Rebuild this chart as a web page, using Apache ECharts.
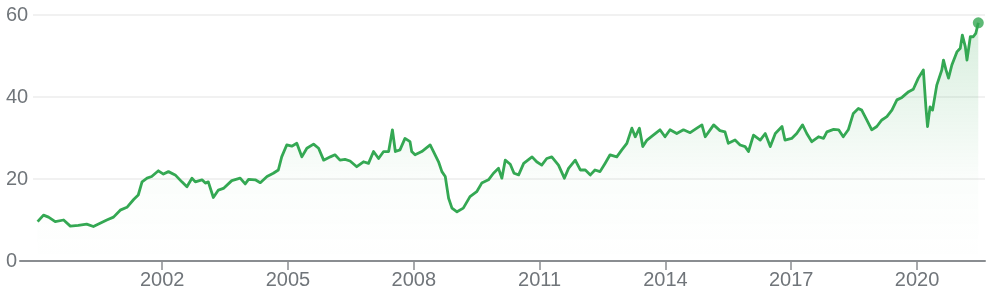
<!DOCTYPE html>
<html>
<head>
<meta charset="utf-8">
<script src="https://cdn.jsdelivr.net/npm/echarts@6/dist/echarts.min.js"></script>
<style>
html,body{margin:0;padding:0;background:#fff;}
#chart{width:990px;height:297px;}
</style>
</head>
<body>
<div id="chart"></div>
<script>
// decimal year of each sample
var years = [
1999.03,1999.17,1999.29,1999.45,1999.65,1999.81,2000.00,2000.20,2000.36,2000.52,2000.68,2000.84,
2001.00,2001.16,2001.32,2001.43,2001.52,2001.64,2001.75,2001.91,2002.03,2002.15,2002.31,2002.47,2002.59,2002.71,
2002.79,2002.95,2003.03,2003.10,2003.22,2003.34,2003.46,2003.66,2003.86,2003.98,2004.06,2004.22,2004.34,2004.50,
2004.65,2004.77,2004.85,2004.97,2005.09,2005.21,2005.33,2005.45,2005.61,2005.73,2005.85,2006.01,2006.12,2006.24,
2006.36,2006.48,2006.64,2006.80,2006.92,2007.04,2007.16,2007.28,2007.40,2007.49,2007.56,2007.67,2007.79,2007.91,
2007.95,2008.03,2008.19,2008.39,2008.47,2008.59,2008.67,2008.75,2008.83,2008.91,2009.03,2009.18,2009.34,2009.50,
2009.62,2009.78,2009.90,2010.02,2010.10,2010.18,2010.30,2010.39,2010.50,2010.62,2010.82,2010.93,2011.05,2011.17,
2011.29,2011.45,2011.59,2011.69,2011.85,2011.97,2012.09,2012.21,2012.32,2012.44,2012.56,2012.68,2012.84,2012.96,
2013.08,2013.20,2013.28,2013.38,2013.46,2013.56,2013.71,2013.87,2013.99,2014.11,2014.27,2014.43,2014.59,2014.75,
2014.87,2014.95,2015.15,2015.30,2015.42,2015.50,2015.66,2015.78,2015.90,2015.98,2016.10,2016.26,2016.38,2016.50,
2016.62,2016.78,2016.85,2017.01,2017.13,2017.27,2017.37,2017.49,2017.65,2017.77,2017.85,2018.01,2018.13,2018.24,
2018.36,2018.48,2018.60,2018.68,2018.80,2018.92,2019.04,2019.16,2019.28,2019.40,2019.52,2019.64,2019.80,2019.91,
2020.03,2020.15,2020.21,2020.25,2020.31,2020.37,2020.47,2020.59,2020.63,2020.69,2020.75,2020.83,2020.95,2021.03,
2021.08,2021.15,2021.19,2021.27,2021.34,2021.40,2021.46
];
// price at each sample
var prices = [
9.6,11.2,10.7,9.6,10.0,8.5,8.7,9.0,8.4,9.2,10.0,10.7,
12.4,13.1,15.0,16.1,19.3,20.2,20.6,22.0,21.2,21.8,21.0,19.3,18.1,20.2,
19.3,19.8,19.0,19.3,15.5,17.3,17.7,19.6,20.2,18.8,19.9,19.8,19.1,20.6,
21.4,22.2,25.4,28.3,28.0,28.7,25.4,27.5,28.5,27.5,24.6,25.4,25.9,24.6,
24.8,24.4,23.0,24.2,23.8,26.7,25.0,26.7,26.7,32.0,26.7,27.1,29.9,29.1,
26.7,25.9,26.7,28.3,26.7,24.2,21.8,20.6,15.3,12.9,12.0,12.9,15.7,16.9,
19.0,19.8,21.4,22.6,20.2,24.6,23.6,21.4,21.0,23.8,25.4,24.2,23.4,25.0,
25.4,23.4,20.2,22.6,24.6,22.2,22.2,21.0,22.2,21.8,23.8,25.9,25.4,27.1,
28.7,32.4,30.3,32.4,27.9,29.5,30.7,32.0,30.3,32.0,31.1,32.0,31.3,32.4,
33.2,30.3,33.2,31.8,31.5,28.7,29.5,28.3,27.9,26.7,30.7,29.5,31.1,27.9,
31.1,32.8,29.5,29.9,31.1,33.2,31.1,29.1,30.3,29.9,31.5,32.1,32.0,30.3,
32.0,36.0,37.2,36.8,34.4,32.0,32.8,34.4,35.2,36.8,39.3,39.9,41.3,41.9,
44.6,46.6,37.6,32.8,37.6,36.8,42.9,46.6,49.0,46.6,44.6,47.8,51.0,51.9,
55.1,52.3,49.0,54.7,54.7,55.5,58.1
];
var xTickYears = [2002, 2005, 2008, 2011, 2014, 2017, 2020];
var yTicks = [0, 20, 40, 60];

var lineData = years.map(function (y, i) { return [y, prices[i]]; });
var lastPoint = [lineData[lineData.length - 1]];

var green = '#34a853';
var textColor = '#70757a';
var fontFamily = 'Arial, "Liberation Sans", Helvetica, sans-serif';

var chart = echarts.init(document.getElementById('chart'), null, {renderer: 'canvas'});
chart.setOption({
  animation: false,
  grid: [
    {left: 20, right: 5, top: 15, bottom: 36},
    {left: 33, right: 5, top: 15, bottom: 36}
  ],
  xAxis: [
    {
      gridIndex: 0, type: 'value', min: 1998.61, max: 2021.62,
      axisLine: {show: true, onZero: false, lineStyle: {color: '#8a8d91', width: 2}},
      axisTick: {show: true, customValues: xTickYears, length: 9, lineStyle: {color: '#8a8d91', width: 1.5}},
      axisLabel: {show: true, customValues: xTickYears, margin: 9, color: textColor,
        fontSize: 20, fontFamily: fontFamily, formatter: function (v) { return String(Math.round(v)); }},
      splitLine: {show: false}
    },
    {
      gridIndex: 1, type: 'value', min: 0, max: 1, show: false
    }
  ],
  yAxis: [
    {gridIndex: 0, type: 'value', min: 0, max: 60, show: false, splitLine: {show: false}},
    {
      gridIndex: 1, type: 'value', min: yTicks[0], max: yTicks[yTicks.length - 1], interval: 20,
      axisLine: {show: false}, axisTick: {show: false},
      axisLabel: {show: true, align: 'left', margin: 27, color: textColor, fontSize: 20, fontFamily: fontFamily},
      splitLine: {show: true, lineStyle: {color: '#f1f1f1', width: 2}}
    }
  ],
  series: [
    {
      type: 'line', xAxisIndex: 0, yAxisIndex: 0, data: lineData,
      showSymbol: false, symbol: 'none', z: 3,
      lineStyle: {color: green, width: 2.8, join: 'round'},
      areaStyle: {
        origin: 'start',
        color: new echarts.graphic.LinearGradient(0, 0, 0, 1, [
          {offset: 0, color: 'rgba(52,168,83,0.28)'},
          {offset: 0.65, color: 'rgba(52,168,83,0.03)'},
          {offset: 1, color: 'rgba(52,168,83,0)'}
        ])
      }
    },
    {
      type: 'scatter', xAxisIndex: 0, yAxisIndex: 0, data: lastPoint,
      symbol: 'circle', symbolSize: 11, z: 4,
      itemStyle: {color: green}
    }
  ]
});
</script>
</body>
</html>
